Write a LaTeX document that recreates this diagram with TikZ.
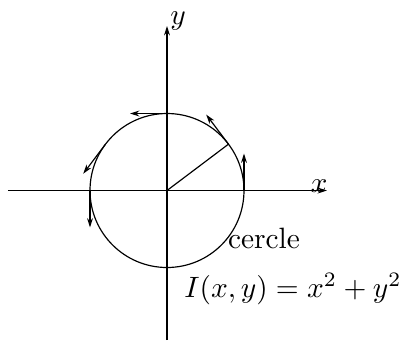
\documentclass[tikz,border=0pt]{standalone}
\usetikzlibrary{arrows.meta,calc}
\begin{document}
\begin{tikzpicture}[x=0.34pt,y=-0.34pt,line width=0.4pt,
  vec/.style={-{Stealth[length=3.2pt,width=2pt]}},
  axisline/.style={line width=0.4pt,-{Stealth[length=3.2pt,width=2pt]}},
  lab/.style={inner sep=0pt}]
\useasboundingbox (0,0) rectangle (410,340);
\coordinate (O) at (167,190.5);
\coordinate (xl) at (8,190.5);
\coordinate (xr) at (327,190.5);
\coordinate (yb) at (167,340);
\coordinate (yt) at (167,26);
\draw[axisline] (xl) -- (xr);
\draw[axisline] (yb) -- (yt);
\node[lab] (xlab) at (319,186) {$x$};
\node[lab] (ylab) at (178,21) {$y$};
\draw (O) circle[radius=77];
\foreach \a in {0,37,90,143,180}{
  \coordinate (p\a) at ($(O)+(-\a:77)$);
  \coordinate (t\a) at ($(p\a)+(-\a-90:37)$);
  \draw[vec] (p\a) -- (t\a);
}
\draw (O) -- (p37);
\node[lab] (cercle) at (264,238) {cercle};
\node[lab] (formule) at (293,289) {$I(x,y)=x^2+y^2$};
\end{tikzpicture}
\end{document}
